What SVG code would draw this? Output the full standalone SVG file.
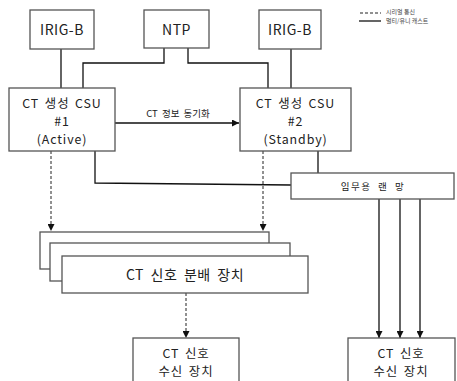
<svg xmlns="http://www.w3.org/2000/svg" width="457" height="381" viewBox="0 0 457 381">
<style>
.box{fill:#fff;stroke:#555;stroke-width:1.3}
.ln{fill:none;stroke:#111;stroke-width:1.3}
.dash{fill:none;stroke:#222;stroke-width:1;stroke-dasharray:3,2}
.t{font-family:"Noto Sans CJK KR","Malgun Gothic",sans-serif;fill:#222;text-anchor:middle}
.big{font-size:14px;letter-spacing:0.5px;word-spacing:3px}
.ml{font-size:12.4px;letter-spacing:0.9px;word-spacing:2px}
.sm{font-size:9.5px;word-spacing:2px}
.lan{font-size:9.5px;letter-spacing:1.5px;word-spacing:3px}
.lg{font-size:6px;text-anchor:start;fill:#444}
</style>
<defs>
<marker id="ah" viewBox="0 0 10 10" refX="10" refY="5" markerWidth="7" markerHeight="7" markerUnits="userSpaceOnUse" orient="auto">
<path d="M0,0L10,5L0,10z" fill="#111"/>
</marker>
</defs>
<rect width="457" height="381" fill="#fff"/>
<g id="connectors">
<line class="ln" x1="61" y1="49" x2="61" y2="88"/>
<line class="ln" x1="291" y1="49" x2="291" y2="88"/>
<polyline class="ln" points="164,48 164,63 83,63 83,88"/>
<polyline class="ln" points="188,48 188,63 268,63 268,88"/>
<line class="ln" x1="115" y1="123" x2="239" y2="123" marker-end="url(#ah)"/>
<polyline class="ln" points="95,151 95,183 291,185"/>
<line class="ln" x1="318" y1="151" x2="318" y2="173"/>
<line class="ln" x1="379" y1="199" x2="379" y2="338" marker-end="url(#ah)"/>
<line class="ln" x1="400" y1="199" x2="400" y2="338" marker-end="url(#ah)"/>
<line class="ln" x1="420" y1="199" x2="420" y2="338" marker-end="url(#ah)"/>
<line class="dash" x1="51" y1="151" x2="51" y2="231" marker-end="url(#ah)"/>
<line class="dash" x1="263" y1="151" x2="263" y2="231" marker-end="url(#ah)"/>
<line class="dash" x1="186" y1="293" x2="186" y2="338" marker-end="url(#ah)"/>
</g>
<g id="irig-b-left"><rect class="box" x="30" y="10" width="64" height="39"/><text class="t big" x="62" y="35">IRIG-B</text></g>
<g id="ntp"><rect class="box" x="144" y="10" width="65" height="38"/><text class="t big" x="176.5" y="35">NTP</text></g>
<g id="irig-b-right"><rect class="box" x="259" y="10" width="62" height="39"/><text class="t big" x="290" y="35">IRIG-B</text></g>
<g id="legend">
<line class="dash" x1="360" y1="13" x2="381" y2="13" stroke-dasharray="2,1.5"/>
<line class="ln" x1="359" y1="21" x2="381" y2="21" stroke-width="0.8"/>
<text class="t lg" x="386" y="14">시리얼 통신</text>
<text class="t lg" x="386" y="23">멀티/유니 캐스트</text>
</g>
<g id="csu1"><rect class="box" x="9" y="88" width="106" height="63"/>
<text class="t ml" x="62" y="108">CT 생성 CSU</text>
<text class="t ml" x="62" y="126">#1</text>
<text class="t ml" x="62" y="144">(Active)</text></g>
<g id="csu2"><rect class="box" x="240" y="88" width="111" height="63"/>
<text class="t ml" x="295.5" y="108">CT 생성 CSU</text>
<text class="t ml" x="295.5" y="126">#2</text>
<text class="t ml" x="295.5" y="144">(Standby)</text></g>
<text class="t sm" x="178" y="117">CT 정보 동기화</text>
<g id="lan"><rect class="box" x="291" y="173" width="163" height="26"/><text class="t lan" x="373" y="189.5">임무용 랜 망</text></g>
<g id="distributor">
<rect class="box" x="40" y="232" width="229" height="37"/>
<rect class="box" x="50" y="243" width="240" height="38"/>
<rect class="box" x="62" y="256" width="246" height="37"/>
<text class="t big" x="185" y="280">CT 신호 분배 장치</text>
</g>
<g id="receiver-left"><rect class="box" x="133" y="338" width="106" height="45"/>
<text class="t ml" x="186" y="358">CT 신호</text><text class="t ml" x="186" y="376">수신 장치</text></g>
<g id="receiver-right"><rect class="box" x="348" y="338" width="107" height="45"/>
<text class="t ml" x="401" y="358">CT 신호</text><text class="t ml" x="401" y="376">수신 장치</text></g>
</svg>
